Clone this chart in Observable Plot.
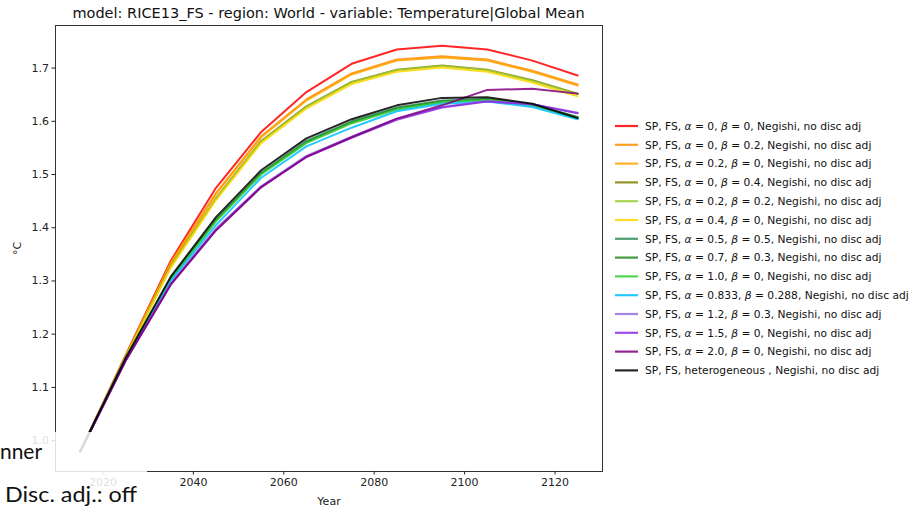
<!DOCTYPE html>
<html>
<head>
<meta charset="utf-8">
<script src="https://cdn.jsdelivr.net/npm/d3@7"></script>
<script src="https://cdn.jsdelivr.net/npm/@observablehq/plot@0.6"></script>
<style>
  html, body { margin: 0; padding: 0; background: #fff; }
  #chart { position: relative; width: 913px; height: 507px; overflow: hidden; }
</style>
</head>
<body>
<div id="chart"></div>
<script>
const years = [2015, 2025, 2035, 2045, 2055, 2065, 2075, 2085, 2095, 2105, 2115, 2125];

const alphas = ["0", "0", "0.2", "0", "0.2", "0.4", "0.5", "0.7", "1.0", "0.833", "1.2", "1.5", "2.0", null];
const betas  = ["0", "0.2", "0", "0.4", "0.2", "0", "0.5", "0.3", "0", "0.288", "0.3", "0", "0", null];
const colors = ["#ff0000", "#ff8c00", "#ffa500", "#808000", "#9acd32", "#ffd700", "#2e8b57", "#228b22", "#32cd32", "#00bfff", "#9370db", "#8a2be2", "#800080", "#000000"];

const s_a0_b0     = [0.98, 1.160, 1.338, 1.475, 1.580, 1.655, 1.708, 1.735, 1.742, 1.735, 1.714, 1.686];
const s_a0_b02    = [0.98, 1.158, 1.334, 1.465, 1.572, 1.641, 1.690, 1.716, 1.722, 1.716, 1.695, 1.669];
const s_a02_b0    = [0.98, 1.158, 1.333, 1.463, 1.570, 1.639, 1.688, 1.714, 1.720, 1.714, 1.693, 1.667];
const s_a0_b04    = [0.98, 1.157, 1.328, 1.455, 1.563, 1.628, 1.674, 1.697, 1.705, 1.697, 1.677, 1.652];
const s_a02_b02   = [0.98, 1.157, 1.327, 1.454, 1.562, 1.627, 1.673, 1.696, 1.704, 1.696, 1.676, 1.651];
const s_a04_b0    = [0.98, 1.156, 1.325, 1.452, 1.559, 1.624, 1.670, 1.693, 1.701, 1.693, 1.673, 1.647];
const s_a05_b05   = [0.98, 1.154, 1.305, 1.415, 1.503, 1.563, 1.600, 1.626, 1.639, 1.642, 1.632, 1.608];
const s_a07_b03   = [0.98, 1.154, 1.304, 1.414, 1.502, 1.561, 1.598, 1.624, 1.637, 1.641, 1.631, 1.607];
const s_a10_b0    = [0.98, 1.153, 1.303, 1.412, 1.500, 1.559, 1.596, 1.622, 1.636, 1.640, 1.630, 1.606];
const s_a0833     = [0.98, 1.152, 1.300, 1.405, 1.494, 1.553, 1.588, 1.619, 1.633, 1.637, 1.627, 1.604];
const s_a12_b03   = [0.98, 1.150, 1.295, 1.398, 1.478, 1.535, 1.571, 1.605, 1.627, 1.638, 1.632, 1.616];
const s_a15_b0    = [0.98, 1.150, 1.294, 1.396, 1.477, 1.533, 1.569, 1.603, 1.626, 1.637, 1.632, 1.615];
const s_a20_b0    = [0.98, 1.150, 1.293, 1.395, 1.476, 1.533, 1.570, 1.605, 1.630, 1.659, 1.661, 1.652];
const s_hetero    = [0.98, 1.155, 1.308, 1.420, 1.508, 1.568, 1.604, 1.630, 1.644, 1.645, 1.633, 1.606];

const seriesValues = [s_a0_b0, s_a0_b02, s_a02_b0, s_a0_b04, s_a02_b02, s_a04_b0, s_a05_b05, s_a07_b03, s_a10_b0, s_a0833, s_a12_b03, s_a15_b0, s_a20_b0, s_hetero];

const xTicks = [2020, 2040, 2060, 2080, 2100, 2120];
const yTicks = [1.0, 1.1, 1.2, 1.3, 1.4, 1.5, 1.6, 1.7];

const titleText = "model: RICE13_FS - region: World - variable: Temperature|Global Mean";

const keys = alphas.map((a, i) => "s" + i);
const data = [];
seriesValues.forEach((vals, i) => {
  vals.forEach((v, j) => data.push({key: keys[i], year: years[j], value: v}));
});

const W = 913, H = 507;
const mL = 55, mR = 311, mT = 25, mB = 36;
const font = "DejaVu Sans, sans-serif";

const plot = Plot.plot({
  width: W, height: H,
  marginLeft: mL, marginRight: mR, marginTop: mT, marginBottom: mB,
  style: {fontFamily: font, fontSize: "11px", color: "#222", background: "transparent"},
  x: {domain: [2009.5, 2130.5]},
  y: {domain: [0.942, 1.780]},
  color: {domain: keys, range: colors},
  marks: [
    Plot.line(data, {x: "year", y: "value", z: "key", stroke: "key", strokeWidth: 2, strokeOpacity: 0.85, curve: "linear"}),
    Plot.frame({stroke: "#333", strokeWidth: 1}),
    Plot.axisX({ticks: xTicks, tickFormat: d => String(d), tickSize: 3.5, tickPadding: 3, label: "Year", labelAnchor: "center", labelArrow: "none", labelOffset: 33, fontSize: 11}),
    Plot.axisY({ticks: yTicks, tickFormat: d => d.toFixed(1), tickSize: 3.5, tickPadding: 3, label: "°C", labelAnchor: "center", labelArrow: "none", labelOffset: 42, fontSize: 11})
  ]
});

document.getElementById("chart").appendChild(plot);
plot.style.position = "absolute";
plot.style.left = "0px";
plot.style.top = "0px";

const svg = d3.select(plot);

// Title
svg.append("text")
  .attr("x", (mL + (W - mR)) / 2)
  .attr("y", 18)
  .attr("text-anchor", "middle")
  .attr("font-family", font)
  .attr("font-size", "14.5px")
  .attr("fill", "#111")
  .text(titleText);

// Legend
const lg = svg.append("g").attr("font-family", font).attr("font-size", "10.7px").attr("fill", "#111").attr("text-anchor", "start");
alphas.forEach((a, i) => {
  const y = 126 + i * 18.8;
  lg.append("line").attr("x1", 615).attr("x2", 638).attr("y1", y).attr("y2", y)
    .attr("stroke", colors[i]).attr("stroke-width", 2.2).attr("stroke-opacity", 0.85);
  const t = lg.append("text").attr("x", 645).attr("y", y).attr("dy", "0.35em").attr("text-anchor", "start");
  if (a === null) {
    t.text("SP, FS, heterogeneous , Negishi, no disc adj");
  } else {
    t.append("tspan").text("SP, FS, ");
    t.append("tspan").attr("font-style", "italic").text("α");
    t.append("tspan").text(" = " + a + ", ");
    t.append("tspan").attr("font-style", "italic").text("β");
    t.append("tspan").text(" = " + betas[i] + ", Negishi, no disc adj");
  }
});

// Overlay box from the slide
svg.append("rect").attr("x", 0).attr("y", 432).attr("width", 147).attr("height", 75)
  .attr("fill", "#fff").attr("fill-opacity", 0.85);
svg.append("text").attr("x", 0).attr("y", 459).attr("text-anchor", "start")
  .attr("font-family", "Lato, sans-serif").attr("font-size", "21px").attr("fill", "#111")
  .attr("textLength", 42).attr("lengthAdjust", "spacingAndGlyphs")
  .text("nner");
svg.append("text").attr("x", 5).attr("y", 502).attr("text-anchor", "start")
  .attr("font-family", "Lato, sans-serif").attr("font-size", "21px").attr("fill", "#111")
  .attr("textLength", 132).attr("lengthAdjust", "spacingAndGlyphs")
  .text("Disc. adj.: off");
</script>
</body>
</html>
